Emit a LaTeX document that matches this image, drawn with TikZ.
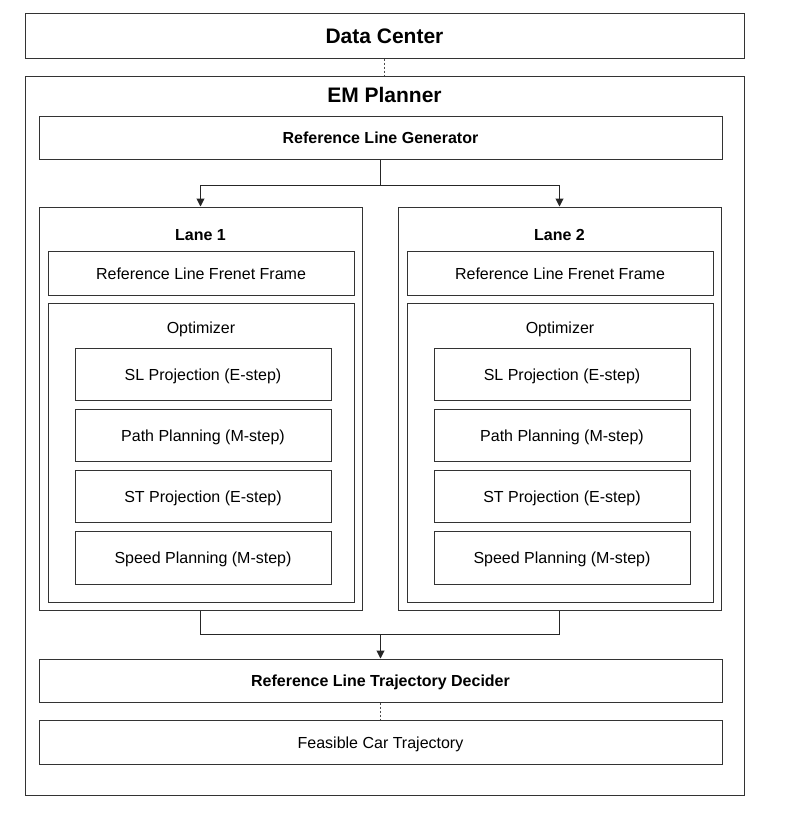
\documentclass[tikz,border=0pt]{standalone}
\usepackage{fontspec}
\setmainfont{Liberation Sans}
\usetikzlibrary{arrows.meta}
\begin{document}
\begin{tikzpicture}[x=1pt,y=-1pt,
  box/.style={draw=black!80, line width=1pt, inner sep=0pt, anchor=center, text height=12.5pt, text depth=0pt, font=\fontsize{16}{19}\selectfont},
  bbox/.style={box, font=\fontsize{16}{19}\selectfont\bfseries},
  title/.style={inner sep=0pt, anchor=center},
  conn/.style={draw=black!85, line width=1pt},
  arr/.style={conn, -{Triangle[length=8pt,width=8pt]}},
  dots/.style={draw=black!70, line width=0.8pt, dash pattern=on 2pt off 2pt}
]
\useasboundingbox (0,0) rectangle (794,814);
% top boxes
\node[box, minimum width=719pt, minimum height=45pt, text height=16pt, font=\fontsize{21}{25}\selectfont\bfseries] (dc) at (384.5,35.5) {Data Center};
\node[box, minimum width=719pt, minimum height=719pt] (em) at (384.5,435.5) {};
\node[title, font=\fontsize{21}{25}\selectfont\bfseries] (emt) at (384.5,95) {EM Planner};
\draw[dots] (dc.south) -- (em.north);
\node[bbox, minimum width=683pt, minimum height=43pt] (rlg) at (380.5,137.5) {Reference Line Generator};
% lanes
\foreach \i/\dx in {1/0,2/359}{
  \node[box, minimum width=323pt, minimum height=403pt] (lane\i) at (200.5+\dx,408.5) {};
  \node[title, font=\fontsize{16}{19}\selectfont\bfseries] (lanet\i) at (200.5+\dx,235) {Lane \i};
  \node[box, minimum width=306pt, minimum height=44pt] (fr\i) at (201+\dx,273) {Reference Line Frenet Frame};
  \node[box, minimum width=306pt, minimum height=299pt] (opt\i) at (201+\dx,452.5) {};
  \node[title, font=\fontsize{16}{19}\selectfont] (optt\i) at (201+\dx,329) {Optimizer};
  \node[box, minimum width=256pt, minimum height=52pt] (sl\i) at (203+\dx,374) {SL Projection (E-step)};
  \node[box, minimum width=256pt, minimum height=52pt] (pp\i) at (203+\dx,435) {Path Planning (M-step)};
  \node[box, minimum width=256pt, minimum height=52pt] (st\i) at (203+\dx,496) {ST Projection (E-step)};
  \node[box, minimum width=256pt, minimum height=53pt] (sp\i) at (203+\dx,557.5) {Speed Planning (M-step)};
}
% split connector
\coordinate (split) at (380.5,185);
\draw[conn] (rlg.south) -- (split);
\draw[arr] (split) -| (lane1.north);
\draw[arr] (split) -| (lane2.north);
% bottom boxes
\node[bbox, minimum width=683pt, minimum height=43pt] (rltd) at (380.5,680.5) {Reference Line Trajectory Decider};
\node[box, minimum width=683pt, minimum height=44pt] (fct) at (380.5,742) {Feasible Car Trajectory};
% merge connector
\coordinate (merge) at (380.5,634);
\draw[conn] (lane1.south) -- (lane1.south |- merge) -- (lane2.south |- merge) -- (lane2.south);
\draw[arr] (merge) -- (rltd.north);
\draw[dots] (rltd.south) -- (fct.north);
\end{tikzpicture}
\end{document}
